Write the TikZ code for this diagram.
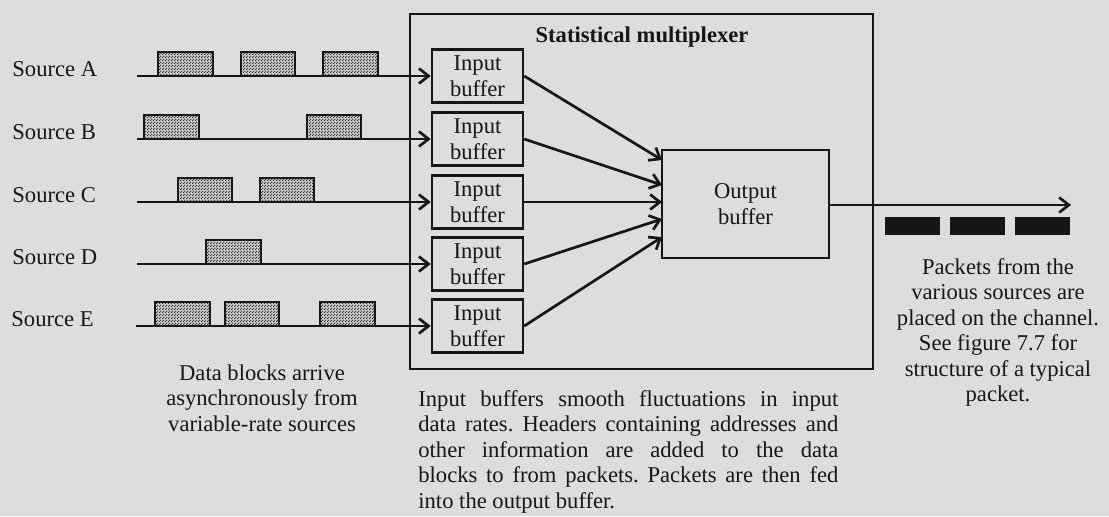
\documentclass[tikz,border=0pt]{standalone}
\usepackage{fontspec}
\setmainfont{Liberation Serif}
\usetikzlibrary{arrows.meta,patterns}

% fine stipple used for the data blocks
\pgfdeclarepatternformonly{finedots}{\pgfpointorigin}{\pgfqpoint{1.5pt}{1.5pt}}{\pgfqpoint{1.5pt}{1.5pt}}{%
  \pgfpathcircle{\pgfqpoint{0.375pt}{0.375pt}}{0.42pt}%
  \pgfpathcircle{\pgfqpoint{1.125pt}{1.125pt}}{0.42pt}%
  \pgfusepath{fill}}

\definecolor{paper}{RGB}{221,221,219}
\definecolor{ink}{RGB}{22,22,22}

\begin{document}
\frenchspacing
\begin{tikzpicture}[x=0.5pt,y=-0.5pt,
  font=\fontsize{11.3}{12.75}\selectfont,
  >={Straight Barb[length=4.8pt,width=7.5pt]},
  wire/.style={draw=ink,line width=1.35pt},
  arr/.style={wire,->},
  frame/.style={draw=ink,line width=1.2pt,inner sep=0pt},
  buf/.style={draw=ink,line width=1.25pt,minimum width=45.5pt,minimum height=26.5pt,
    inner sep=0pt,align=center,text=ink},
  outbuf/.style={buf,minimum width=83.5pt,minimum height=54pt},
  datablock/.style={draw=ink,line width=1.25pt,preaction={fill=gray!40},
    pattern=finedots,pattern color=ink},
  packet/.style={fill=ink},
  srclabel/.style={anchor=base west,inner sep=0pt,text=ink},
  caption/.style={align=center,inner sep=0pt,text=ink,anchor=north}
]
% paper
\fill[paper] (0,0) rectangle (1109,516);
\useasboundingbox (0,0) rectangle (1109,516);

% multiplexer frame and title
\node[frame,minimum width=231.5pt,minimum height=177.5pt] (mux) at (641.5,191.5) {};
\node[anchor=base,inner sep=0pt,text=ink,font=\fontsize{11.3}{12.75}\selectfont\bfseries]
  (title) at (642,42) {Statistical multiplexer};

% input buffers
\node[buf] (bA) at (477.5,76)  {Input\\buffer};
\node[buf] (bB) at (477.5,139) {Input\\buffer};
\node[buf] (bC) at (477.5,202) {Input\\buffer};
\node[buf] (bD) at (477.5,264) {Input\\buffer};
\node[buf] (bE) at (477.5,326) {Input\\buffer};

% output buffer
\node[outbuf] (out) at (745.5,204) {Output\\buffer};

% source labels and line starts
\node[srclabel] (lA) at (12,76)  {Source A};
\node[srclabel] (lB) at (12,139) {Source B};
\node[srclabel] (lC) at (12,202) {Source C};
\node[srclabel] (lD) at (12,264) {Source D};
\node[srclabel] (lE) at (11,326) {Source E};
\coordinate (sA) at (137,76);
\coordinate (sB) at (137,139);
\coordinate (sC) at (137,202);
\coordinate (sD) at (137,264);
\coordinate (sE) at (136,326);

% source lines into the input buffers
\draw[arr] (sA) -- (bA.west);
\draw[arr] (sB) -- (bB.west);
\draw[arr] (sC) -- (bC.west);
\draw[arr] (sD) -- (bD.west);
\draw[arr] (sE) -- (bE.west);

% data blocks sitting on the source lines
\foreach \xa/\xb in {158/213,241/295,323/378}
  \draw[datablock] (\xa,52) rectangle (\xb,76);
\foreach \xa/\xb in {144/199,307/361}
  \draw[datablock] (\xa,115) rectangle (\xb,139);
\foreach \xa/\xb in {178/232,260/314}
  \draw[datablock] (\xa,178) rectangle (\xb,202);
\foreach \xa/\xb in {206/261}
  \draw[datablock] (\xa,240) rectangle (\xb,264);
\foreach \xa/\xb in {155/210,225/279,320/375}
  \draw[datablock] (\xa,302) rectangle (\xb,326);

% input buffers feeding the output buffer
\coordinate (iA) at (662,160);
\coordinate (iB) at (662,185);
\coordinate (iC) at (662,202);
\coordinate (iD) at (662,219);
\coordinate (iE) at (662,237);
\draw[arr] (bA.east) -- (iA);
\draw[arr] (bB.east) -- (iB);
\draw[arr] (bC.east) -- (iC);
\draw[arr] (bD.east) -- (iD);
\draw[arr] (bE.east) -- (iE);

% channel
\coordinate (chan) at (1071,205);
\draw[arr] (out.east |- chan) -- (chan);
\fill[packet] (885,217) rectangle (940,235);
\fill[packet] (950,217) rectangle (1005,235);
\fill[packet] (1015,217) rectangle (1070,235);

% captions
\node[caption] (capL) at (262,364)
  {Data blocks arrive\\asynchronously from\\variable-rate sources};
\node[caption] (capR) at (998,258)
  {Packets from the\\various sources are\\placed on the channel.\\See figure 7.7 for\\structure of a typical\\packet.};
\node[caption,anchor=north west,align=justify,text width=210pt] (capB) at (418,390)
  {\tolerance=10000\emergencystretch=20pt
   Input buffers smooth fluctuations in input\linebreak
   data rates. Headers containing addresses and\linebreak
   other information are added to the data\linebreak
   blocks to from packets. Packets are then fed\linebreak
   into the output buffer.};
\end{tikzpicture}
\end{document}
